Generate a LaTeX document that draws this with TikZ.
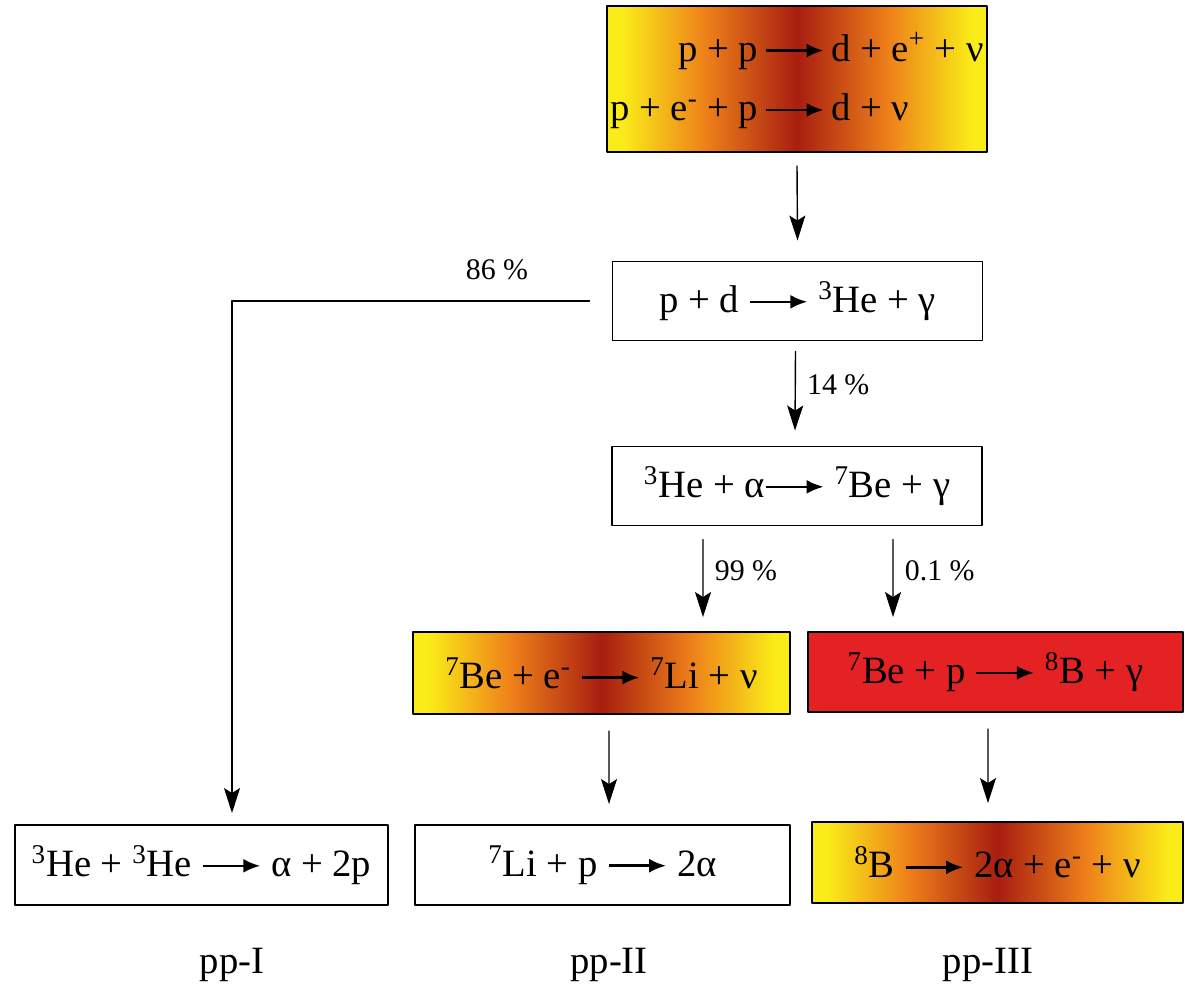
\documentclass[tikz,border=0pt]{standalone}
\usepackage{fontspec}
\setmainfont{LiberationSerif}[Extension=.ttf, UprightFont=*-Regular, BoldFont=*-Bold]
\usetikzlibrary{arrows.meta}

\definecolor{sunyellow}{RGB}{250,236,24}
\definecolor{sunorange}{RGB}{238,128,26}
\definecolor{sunred}{RGB}{168,30,16}
\definecolor{boxred}{RGB}{228,34,36}

\pgfdeclarehorizontalshading{heatband}{100bp}{color(0bp)=(sunyellow); color(27bp)=(sunyellow);
  color(38bp)=(sunorange); color(50bp)=(sunred); color(62bp)=(sunorange); color(73bp)=(sunyellow);
  color(100bp)=(sunyellow)}

% reaction arrow inside the boxes
\newcommand{\rxn}{\tikz[baseline=-0.6ex]\draw[line width=1.5pt,-{Latex[length=3.4mm,width=2.8mm]}] (0,0) -- (1.15cm,0);}

\tikzset{
  rbox/.style={draw, line width=1.1pt, minimum width=7.4cm, minimum height=1.58cm, inner sep=2pt,
    font=\fontsize{22}{26}\selectfont},
  heat/.style={rbox, shade, shading=heatband},
  link/.style={line width=0.8pt, -{Stealth[length=5mm,width=3.2mm,inset=1mm]}},
  frac/.style={font=\fontsize{17}{20}\selectfont},
  chainname/.style={font=\fontsize{22}{26}\selectfont}
}

\begin{document}
\begin{tikzpicture}[line cap=round,line join=round]
  \useasboundingbox (0,0) rectangle (23.7,-19.96);
  \node[heat, minimum height=2.92cm] (pp) at (15.94,-1.58)
    {\renewcommand{\arraystretch}{1.3}\begin{tabular}{@{}r@{\,}c@{\,}l@{}}p + p & \rxn & d + e\textsuperscript{+} + ν\\
     p + e\textsuperscript{-} + p & \rxn & d + ν\end{tabular}};
  \node[rbox] (pd) at (15.95,-6.02) {p + d \rxn\ \textsuperscript{3}He + γ};
  \node[rbox] (ha) at (15.94,-9.72) {\textsuperscript{3}He + α\rxn\ \textsuperscript{7}Be + γ};
  \node[heat, minimum width=7.54cm, minimum height=1.64cm] (bee) at (12.03,-13.46)
    {\textsuperscript{7}Be + e\textsuperscript{-} \rxn\ \textsuperscript{7}Li + ν};
  \node[rbox, fill=boxred, minimum width=7.5cm, minimum height=1.6cm] (bep) at (19.91,-13.44)
    {\textsuperscript{7}Be + p \rxn\ \textsuperscript{8}B + γ};
  \node[rbox, minimum width=7.46cm, minimum height=1.6cm] (hehe) at (4.03,-17.3)
    {\textsuperscript{3}He + \textsuperscript{3}He \rxn\ α + 2p};
  \node[rbox, minimum width=7.5cm, minimum height=1.6cm] (lip) at (12.05,-17.3)
    {\textsuperscript{7}Li + p \rxn\ 2α};
  \node[heat, minimum width=7.42cm, minimum height=1.62cm] (bb) at (19.95,-17.25)
    {\textsuperscript{8}B \rxn\ 2α + e\textsuperscript{-} + ν};

  \draw[link] ([yshift=-0.26cm]pp.south) -- ([yshift=0.4cm]pd.north);
  \draw[link] ([xshift=-0.44cm]pd.west) -| ([xshift=0.61cm,yshift=0.22cm]hehe.north);
  \node[frac] (f86) at (9.94,-5.4) {86 \%};
  \draw[link] ([xshift=-0.04cm,yshift=-0.2cm]pd.south) -- ([xshift=-0.04cm,yshift=0.3cm]ha.north)
    node[frac, pos=0.42, right=3pt] (f14) {14 \%};
  \draw[link] ([xshift=-1.88cm,yshift=-0.26cm]ha.south) -- ([xshift=2.03cm,yshift=0.28cm]bee.north)
    node[frac, pos=0.4, right=3pt] (f99) {99 \%};
  \draw[link] ([xshift=1.92cm,yshift=-0.26cm]ha.south) -- ([xshift=-2.05cm,yshift=0.28cm]bep.north)
    node[frac, pos=0.4, right=3pt] (f01) {0.1 \%};
  \draw[link] ([xshift=0.15cm,yshift=-0.32cm]bee.south) -- ([xshift=0.13cm,yshift=0.4cm]lip.north);
  \draw[link] ([xshift=-0.15cm,yshift=-0.32cm]bep.south) -- ([xshift=-0.19cm,yshift=0.36cm]bb.north);

  \node[chainname] (c1) at (4.64,-19.3) {pp-I};
  \node[chainname] (c2) at (12.18,-19.3) {pp-II};
  \node[chainname] (c3) at (19.76,-19.3) {pp-III};
\end{tikzpicture}
\end{document}
